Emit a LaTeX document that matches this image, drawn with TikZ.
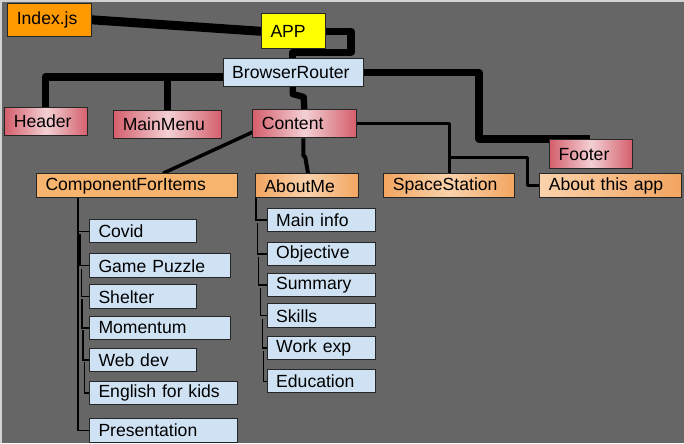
\documentclass[tikz,border=0pt]{standalone}
\usepackage{fontspec}
\setmainfont{Liberation Sans}
\usetikzlibrary{calc}
\pgfdeclarelayer{back}
\pgfdeclarelayer{lines}
\pgfsetlayers{back,lines,main}
\definecolor{bgc}{HTML}{666666}
\definecolor{idxc}{HTML}{FF9900}
\definecolor{appc}{HTML}{FFFF00}
\definecolor{bluec}{HTML}{CFE2F3}
\definecolor{redd}{HTML}{D45F6C}
\definecolor{redl}{HTML}{F3D0D4}
\definecolor{ord}{HTML}{F2A560}
\definecolor{orl}{HTML}{FAD2AC}
\definecolor{orf}{HTML}{F7B46E}
\tikzset{
  box/.style={draw=black!85, line width=0.75pt, inner xsep=6.75pt, inner ysep=0pt,
    align=left, font=\fontsize{13.2}{15}\selectfont, text=black},
  bluebox/.style={fill=bluec},
  redbox/.style={left color=redd, right color=redd, middle color=redl},
  orbox/.style={left color=ord, right color=ord, middle color=orl},
  orflat/.style={fill=orf},
  thick1/.style={line width=6.75pt, line join=round},
  thick2/.style={line width=5.3pt, line join=round},
  mid1/.style={line width=3pt, line join=round},
  mid2/.style={line width=2.4pt, line join=round},
  thin1/.style={line width=1pt}
}
\newcommand\bx[7]{%
  \pgfmathsetmacro\bxw{(#4-#2)*0.75}%
  \pgfmathsetmacro\bxh{(#5-#3)*0.75}%
  \pgfmathsetmacro\bxt{(#4-#2-18)*0.75}%
  \node[box,#6,anchor=north west,minimum width=\bxw pt,minimum height=\bxh pt,text width=\bxt pt] (#1) at (#2,#3) {#7};}
\begin{document}
\begin{tikzpicture}[x=0.75pt,y=-0.75pt]
\useasboundingbox (0,0) rectangle (684,443);
\begin{pgfonlayer}{back}
\fill[bgc] (0,0) rectangle (684,443);
\fill[gray!35] (0,0) rectangle (684,1.5);
\fill[gray!35] (0,0) rectangle (1.5,443);
\end{pgfonlayer}
% top level
\bx{idx}{7.3}{3.3}{90.7}{36}{fill=idxc}{Index.js}
\bx{app}{261}{13.3}{325}{48.3}{fill=appc}{APP}
\bx{br}{222.7}{58.3}{363}{86}{bluebox}{BrowserRouter}
\bx{hdr}{4.3}{106.7}{87.3}{135}{redbox}{Header}
\bx{mm}{113.3}{110}{221}{138.3}{redbox}{MainMenu}
\bx{ct}{252.3}{109.3}{355.7}{137.3}{redbox}{Content}
\bx{ft}{549}{139}{631.7}{168.3}{redbox}{Footer}
% second level
\bx{cfi}{36}{173.3}{237.3}{197.3}{orflat}{ComponentForItems}
\bx{am}{255}{173.3}{358.3}{197.3}{orbox}{AboutMe}
\bx{ss}{383.3}{173.3}{514}{196.7}{orbox}{SpaceStation}
\bx{ata}{539.3}{173.3}{680.7}{196.7}{left color=orl, right color=ord}{About this app}
% items
\bx{covid}{89}{219.3}{196}{242.3}{bluebox}{Covid}
\bx{game}{89}{253.3}{230}{277.3}{bluebox}{Game Puzzle}
\bx{shel}{89}{284.3}{196}{308.3}{bluebox}{Shelter}
\bx{mom}{89}{315.7}{230}{339.3}{bluebox}{Momentum}
\bx{web}{89}{347.7}{196}{371}{bluebox}{Web dev}
\bx{eng}{89}{380.7}{237}{404}{bluebox}{English for kids}
\bx{pres}{89}{417.7}{237}{441.7}{bluebox}{Presentation}
% about me
\bx{mi}{266.7}{208.3}{374.7}{230.7}{bluebox}{Main info}
\bx{obj}{266.7}{241.7}{374.7}{265}{bluebox}{Objective}
\bx{sum}{266.7}{272.7}{374.7}{296}{bluebox}{Summary}
\bx{sk}{266.7}{303.3}{374.7}{327.3}{bluebox}{Skills}
\bx{we}{266.7}{335.7}{374.7}{359}{bluebox}{Work exp}
\bx{ed}{266.7}{369.3}{374.7}{392.3}{bluebox}{Education}
% connectors
\begin{pgfonlayer}{lines}
\draw[thick1] ($(idx.north east)+(0,16.5)$) -- ($(app.north west)+(0,18)$);
\draw[thick2] (app.east) -- ++(25,0) |- ($(br.north west)+(70,-6)$) -- ($(br.north west)+(70,0)$);
\coordinate (hb) at ($(br.south west)+(0,-10)$);
\coordinate (hdrt) at ($(hdr.north west)+(41,0)$);
\coordinate (mmt) at ($(mm.north west)+(54,0)$);
\draw[line width=5.6pt, line join=round] (hb) -| (hdrt);
\draw[line width=5.6pt] (mmt) -- (mmt |- hb);
\draw[line width=4.8pt, line join=round] ($(br.south west)+(70,0)$) -- ++(0,7) -- ++(11,3) -- ($(ct.north west)+(52,0)$);
\draw[thick2] (br.east) -- ++(115,0) |- ($(ft.north west)+(41,0)$);
\draw[line width=2.6pt] ($(ct.south west)+(2,-7)$) -- ($(cfi.north west)+(127,0)$);
\draw[mid1] ($(ct.south west)+(51,0)$) -- ++(0,17) -- ++(2,2) -- ($(am.north west)+(53,0)$);
\draw[mid2] (ct.east) -| ($(ss.north west)+(66,0)$);
\coordinate (sj) at ($(ss.north west)+(66,-16)$);
\draw[mid2] (sj) -- ++(78,0) |- (ata.west);
% item tree
\draw[thin1] ($(cfi.south west)+(42,0)$) |- (covid.west);
\draw[thin1] ($(cfi.south west)+(42,0)$) |- (pres.west);
\draw[thin1] ($(covid.west)+(-9,3)$) |- (game.west);
\draw[thin1] ($(game.west)+(-7.5,3)$) |- (shel.west);
\draw[thin1] ($(shel.west)+(-7,2)$) |- (mom.west);
\draw[thin1] ($(mom.west)+(-6,2)$) |- (web.west);
\draw[thin1] ($(web.west)+(-4.5,2)$) |- (eng.west);
% about me tree
\draw[thin1] ($(am.south west)+(1,0)$) |- (mi.west);
\draw[thin1] ($(mi.west)+(-9.5,3)$) |- (obj.west);
\draw[thin1] ($(obj.west)+(-8,3)$) |- (sum.west);
\draw[thin1] ($(sum.west)+(-6,3)$) |- (sk.west);
\draw[thin1] ($(sk.west)+(-4.5,3)$) |- (we.west);
\draw[thin1] ($(we.west)+(-3,3)$) |- (ed.west);
\end{pgfonlayer}
\end{tikzpicture}
\end{document}
